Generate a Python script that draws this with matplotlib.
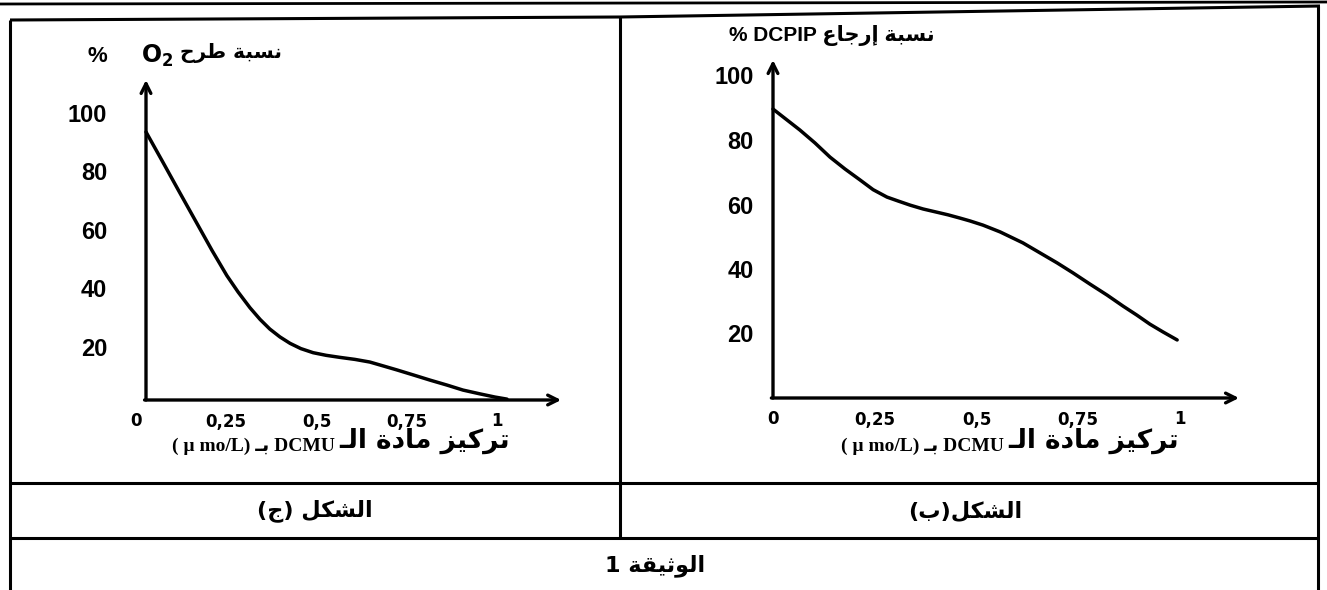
import matplotlib
matplotlib.use("Agg")
import matplotlib.pyplot as plt
from matplotlib.lines import Line2D
from matplotlib.transforms import ScaledTranslation

# ---- data ----
conc_j = [0.0, 0.047, 0.094, 0.141, 0.183, 0.224, 0.255, 0.288, 0.316, 0.343, 0.371, 0.399,
          0.429, 0.463, 0.499, 0.537, 0.579, 0.620, 0.659, 0.695, 0.740, 0.787, 0.834,
          0.878, 0.925, 0.967, 1.0]
o2_release = [91.8, 81.4, 70.9, 60.5, 51.2, 42.6, 37.0, 31.6, 27.6, 24.3, 21.6, 19.4,
              17.6, 16.2, 15.3, 14.6, 13.9, 13.0, 11.6, 10.3, 8.6, 6.8, 5.1,
              3.4, 2.1, 1.0, 0.3]

conc_b = [0.0, 0.066, 0.103, 0.140, 0.177, 0.214, 0.246, 0.280, 0.307, 0.337, 0.369, 0.403,
          0.430, 0.459, 0.484, 0.516, 0.558, 0.614, 0.656, 0.698, 0.737, 0.779, 0.821,
          0.860, 0.894, 0.926, 0.958, 0.993]
dcpip_reduction = [89.6, 83.1, 79.1, 74.7, 71.0, 67.6, 64.6, 62.3, 61.1, 59.8, 58.6, 57.6,
                   56.8, 55.8, 54.9, 53.6, 51.5, 48.1, 45.0, 41.9, 38.8, 35.3, 31.9,
                   28.5, 25.7, 22.9, 20.5, 18.0]

x_ticks = [0, 0.25, 0.5, 0.75, 1]
x_tick_labels = ["0", "0,25", "0,5", "0,75", "1"]
y_ticks = [20, 40, 60, 80, 100]
y_tick_labels = ["20", "40", "60", "80", "100"]

# Arabic strings are stored in visual order with presentation forms
# (matplotlib does no shaping or bidi on its own)
ylabel_j_ar = "ﺡﺮﻃ ﺔﺒﺴﻧ"
ylabel_b = "% DCPIP ﻉﺎﺟﺭﺇ ﺔﺒﺴﻧ"
xlabel_ar = "ـﻟﺍ ﺓﺩﺎﻣ ﺰﻴﻛﺮﺗ"
xlabel_lat = "( µ mo/L) ـﺑ DCMU"
caption_j = "(ﺝ) ﻞﻜﺸﻟﺍ"
caption_b = "(ﺏ)ﻞﻜﺸﻟﺍ"
doc_title = "1 ﺔﻘﻴﺛﻮﻟﺍ"

W, H = 1327, 590
fig = plt.figure(figsize=(W / 100, H / 100), dpi=100)
fig.patch.set_facecolor("white")


def fx(x):
    return x / W


def fy(y):
    return 1 - y / H


def hline(points, lw=2.2):
    xs = [fx(p[0]) for p in points]
    ys = [fy(p[1]) for p in points]
    fig.add_artist(Line2D(xs, ys, transform=fig.transFigure, color="black", lw=lw,
                          solid_capstyle="butt"))


# ---- table frame ----
hline([(0, 4), (1327, 2)], lw=2.0)
hline([(10, 20), (620, 17), (1320, 6)])
hline([(10, 20), (10, 590)])
hline([(1318, 6), (1318, 590)])
hline([(620, 17), (620, 538)])
hline([(10, 483), (1318, 483)])
hline([(10, 538), (1318, 538)])


def make_axes(x0px, x1px, y0px, y100px, xlim, ylim):
    sx = x1px - x0px
    sy = (y0px - y100px) / 100
    left = x0px + xlim[0] * sx
    right = x0px + xlim[1] * sx
    bottom = y0px - ylim[0] * sy
    top = y0px - ylim[1] * sy
    ax = fig.add_axes([left / W, 1 - bottom / H, (right - left) / W, (bottom - top) / H])
    ax.set_xlim(xlim)
    ax.set_ylim(ylim)
    ax.patch.set_alpha(0)
    for s in ax.spines.values():
        s.set_visible(False)
    ax.spines["bottom"].set_position(("data", 0))
    ax.spines["left"].set_position(("data", 0))
    ax.tick_params(length=0)
    return ax


def draw_panel(ax, x, y, x_tip, y_tip, ypad, xshift, yshift, yfont):
    ax.plot(x, y, color="black", lw=2.5, solid_capstyle="round", solid_joinstyle="round")
    arrow = dict(arrowstyle="->,head_length=0.7,head_width=0.35", lw=2.4, color="black",
                 shrinkA=0, shrinkB=0)
    ax.annotate("", xy=(0, y_tip), xytext=(0, 0), arrowprops=arrow)
    ax.annotate("", xy=(x_tip, 0), xytext=(-0.004, 0), arrowprops=arrow)

    ax.set_xticks(x_ticks)
    ax.set_xticklabels(x_tick_labels, fontsize=12, fontweight="bold", family="DejaVu Sans")
    ax.set_yticks(y_ticks)
    ax.set_yticklabels(y_tick_labels, fontsize=yfont, fontweight="bold", family="Liberation Sans")
    ax.tick_params(axis="x", pad=9)
    ax.tick_params(axis="y", pad=ypad)
    off_x = ScaledTranslation(xshift / 100, 0, fig.dpi_scale_trans)
    for lab in ax.get_xticklabels():
        lab.set_transform(lab.get_transform() + off_x)
    off_y = ScaledTranslation(0, -yshift / 100, fig.dpi_scale_trans)
    for lab in ax.get_yticklabels():
        lab.set_transform(lab.get_transform() + off_y)


# ---- panel (ج): O2 release ----
ax_j = make_axes(146, 507, 400, 108, (-0.3, 1.3), (-15, 118))
draw_panel(ax_j, conc_j, o2_release, 1.15, 109.6, 28, -10, 5, 17)

# ---- panel (ب): DCPIP reduction ----
ax_b = make_axes(773, 1180, 398, 75.5, (-0.3, 1.3), (-15, 118))
draw_panel(ax_b, conc_b, dcpip_reduction, 1.145, 104.8, 14, 0, 0, 17)

# ---- axis titles ----
bold_ar = dict(fontweight="bold", family=["DejaVu Sans"], color="black")

fig.text(fx(97), fy(56), "%", ha="center", va="center", fontsize=16,
         fontweight="bold", family="Liberation Sans")
fig.text(fx(141), fy(56), r"$\mathbf{O_2}$", ha="left", va="center", fontsize=17)
fig.text(fx(180), fy(53), ylabel_j_ar, ha="left", va="center", fontsize=14.5, **bold_ar)

fig.text(fx(729), fy(35), ylabel_b, ha="left", va="center", fontsize=15,
         fontweight="bold", family=["Liberation Sans", "DejaVu Sans"])

for right_px, ax in [(510, ax_j), (1179, ax_b)]:
    t_ar = fig.text(fx(right_px), fy(441), xlabel_ar, ha="right", va="center",
                    fontsize=19, **bold_ar)
    ax.annotate(xlabel_lat, xy=(0, 0.5), xycoords=t_ar, xytext=(-3, -4),
                textcoords="offset points", ha="right", va="center", fontsize=14,
                fontweight="bold", family=["Liberation Serif", "DejaVu Sans"],
                annotation_clip=False)

# ---- captions ----
fig.text(fx(315), fy(511), caption_j, ha="center", va="center", fontsize=16, **bold_ar)
fig.text(fx(965), fy(511), caption_b, ha="center", va="center", fontsize=16, **bold_ar)
fig.text(fx(655), fy(566), doc_title, ha="center", va="center", fontsize=16, **bold_ar)

fig.savefig("out.png", dpi=100)
